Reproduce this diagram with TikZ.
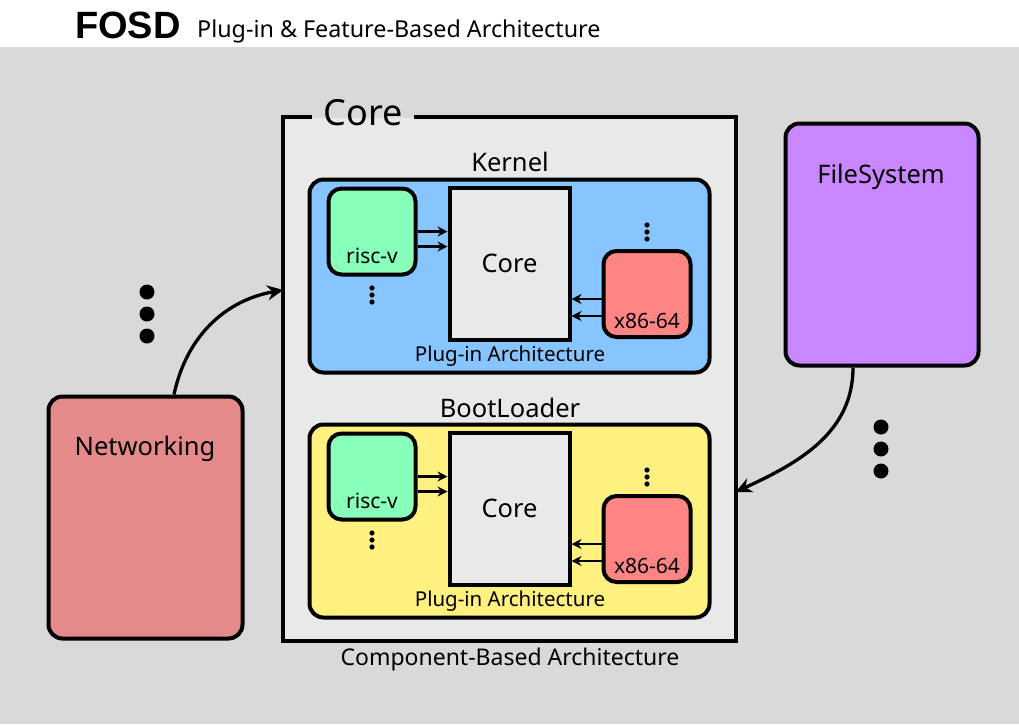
\documentclass[tikz,border=0pt]{standalone}
\usepackage{fontspec}
\setmainfont{Noto Sans}
\newfontfamily\headfont{Liberation Sans}
\usetikzlibrary{arrows.meta, positioning, calc}
\definecolor{bgGray}{HTML}{D9D9D9}
\definecolor{coreGray}{HTML}{E9E9E9}
\definecolor{kernelBlue}{HTML}{86C5FF}
\definecolor{bootYellow}{HTML}{FFF180}
\definecolor{rvGreen}{HTML}{88FFBB}
\definecolor{xRed}{HTML}{FF8585}
\definecolor{netRed}{HTML}{E48A8A}
\definecolor{fsPurple}{HTML}{C886FF}

\begin{document}
\begin{tikzpicture}[x=1pt, y=-1pt,
    box/.style={draw, line width=4pt, rounded corners=14pt, inner sep=0pt},
    plug/.style={draw, line width=4pt, rounded corners=13pt, inner sep=0pt, minimum width=87pt, minimum height=86pt},
    corebox/.style={draw, line width=4pt, fill=coreGray, inner sep=0pt, minimum width=120pt, minimum height=152pt, font=\fontsize{25.5}{28}\selectfont},
    big/.style={font=\fontsize{25.5}{28}\selectfont},
    small/.style={font=\fontsize{21}{24}\selectfont},
    arrow/.style={-{Stealth[length=10pt, width=10pt]}, line width=2.2pt},
    bigarrow/.style={-{Stealth[length=16pt, width=15pt]}, line width=3.3pt},
]
    \useasboundingbox (0,0) rectangle (1019,724);
    \fill[white] (0,0) rectangle (1019,47);
    \fill[bgGray] (0,47) rectangle (1019,724);

    % title
    \node[anchor=base west, inner sep=0pt, font=\headfont\bfseries\fontsize{38}{40}\selectfont] (title) at (75,38) {FOSD};
    \node[anchor=base west, inner sep=0pt, font=\fontsize{23.3}{26}\selectfont] (subtitle) at (197,37) {Plug-in \& Feature-Based Architecture};

    % component-based core
    \node[fill=coreGray, minimum width=452pt, minimum height=523pt, inner sep=0pt] (core) at (509.5,379) {};
    \node[inner sep=11pt, font=\fontsize{36}{40}\selectfont] (coretitle) at (363,113) {Core};
    \draw[line width=4pt] (coretitle.west |- core.north) -- (core.north west) -- (core.south west)
        -- (core.south east) -- (core.north east) -- (coretitle.east |- core.north);
    \node[font=\fontsize{23}{26}\selectfont] (complbl) at (510,660) {Component-Based Architecture};

    % kernel
    \node[big] (kernellbl) at (510,162) {Kernel};
    \node[box, fill=kernelBlue, minimum width=400pt, minimum height=193pt] (kbox) at (509.5,276) {};
    \node[corebox] (kcore) at (509.5,263.5) {Core};
    \node[plug, fill=rvGreen] (krv) at (372,231.5) {};
    \node[small] (krvlbl) at (372,256) {risc-v};
    \node[plug, fill=xRed] (kx86) at (647,294) {};
    \node[small] (kx86lbl) at (647,321) {x86-64};
    \node[small, font=\fontsize{20.5}{24}\selectfont] (kplug) at (510,356) {Plug-in Architecture};
    \draw[arrow] (krv.east) -- (krv.east -| kcore.west);
    \draw[arrow] ([yshift=-15pt]krv.east) -- ([yshift=-15pt]krv.east -| kcore.west);
    \draw[arrow] ([yshift=-5pt]kx86.west) -- ([yshift=-5pt]kx86.west -| kcore.east);
    \draw[arrow] ([yshift=-22pt]kx86.west) -- ([yshift=-22pt]kx86.west -| kcore.east);
    \fill (372,288) circle (2.6pt) (372,295) circle (2.6pt) (372,302) circle (2.6pt);
    \fill (647,225) circle (2.6pt) (647,232) circle (2.6pt) (647,239) circle (2.6pt);

    % bootloader
    \node[big] (bootlbl) at (510,408) {BootLoader};
    \node[box, fill=bootYellow, minimum width=400pt, minimum height=193pt] (bbox) at (509.5,521) {};
    \node[corebox] (bcore) at (509.5,508.5) {Core};
    \node[plug, fill=rvGreen] (brv) at (372,476.5) {};
    \node[small] (brvlbl) at (372,501) {risc-v};
    \node[plug, fill=xRed] (bx86) at (647,539) {};
    \node[small] (bx86lbl) at (647,566) {x86-64};
    \node[small, font=\fontsize{20.5}{24}\selectfont] (bplug) at (510,601) {Plug-in Architecture};
    \draw[arrow] (brv.east) -- (brv.east -| bcore.west);
    \draw[arrow] ([yshift=-15pt]brv.east) -- ([yshift=-15pt]brv.east -| bcore.west);
    \draw[arrow] ([yshift=-5pt]bx86.west) -- ([yshift=-5pt]bx86.west -| bcore.east);
    \draw[arrow] ([yshift=-22pt]bx86.west) -- ([yshift=-22pt]bx86.west -| bcore.east);
    \fill (372,533) circle (2.6pt) (372,540) circle (2.6pt) (372,547) circle (2.6pt);
    \fill (647,470) circle (2.6pt) (647,477) circle (2.6pt) (647,484) circle (2.6pt);

    % networking
    \node[box, fill=netRed, minimum width=194pt, minimum height=242pt] (net) at (145.5,517.5) {};
    \node[big] (netlbl) at (145,449) {Networking};
    \fill (147,292) circle (7.5pt) (147,314) circle (7.5pt) (147,336) circle (7.5pt);
    \draw[bigarrow] ([xshift=28.5pt]net.north) to[out=78, in=190] ([yshift=89pt]core.west);

    % file system
    \node[box, fill=fsPurple, minimum width=193pt, minimum height=242pt] (fs) at (882,244.5) {};
    \node[big] (fslbl) at (881,177) {FileSystem};
    \fill (881,427) circle (7.5pt) (881,449) circle (7.5pt) (881,471) circle (7.5pt);
    \draw[bigarrow] ([xshift=-29pt]fs.south) to[out=-90, in=25] ([yshift=-113pt]core.east);
\end{tikzpicture}
\end{document}
